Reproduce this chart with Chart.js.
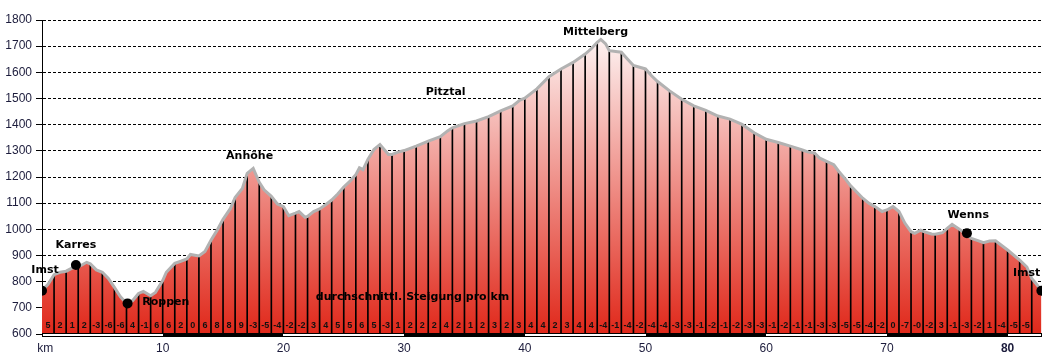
<!DOCTYPE html>
<html>
<head>
<meta charset="utf-8">
<script src="https://cdn.jsdelivr.net/npm/chart.js@4.4.0/dist/chart.umd.min.js"></script>
<style>
html,body{margin:0;padding:0;background:#fff;}
canvas{display:block;}
</style>
</head>
<body>
<canvas id="c" width="1047" height="357"></canvas>
<script>
// ---- profile (distance in km, elevation in m) ----
const profileKm = [0,0.5,1,1.5,2,2.5,3,3.7,4,4.5,5,5.5,6,6.5,7,7.5,8,8.4,9,9.4,10,10.3,11,11.5,12,12.3,13,13.5,14,14.5,15,15.6,16,16.6,17,17.5,18,18.4,19,19.5,20,20.45,21,21.3,21.8,22,22.5,23,23.5,24,24.5,25,25.5,26,26.3,26.6,27,27.5,28,28.7,29,29.5,30,31,32,33,33.6,34,35,36,37,38,39,39.6,40,41,42,43,44,45,45.5,46,46.3,46.7,47,48,48.5,49,50,50.5,51,52,53,54,55,56,57,58,59,60,61,62,63,63.5,64,64.4,65,65.6,66,66.6,67,68,68.5,69,69.6,70,70.5,71,71.5,72,72.3,72.8,73,73.7,74,74.6,75,75.4,76,76.5,77,77.6,78,78.5,79,80,81,81.6,82,82.4,82.8];
const profileElev = [765,790,827,836,840,852,856,874,868,845,836,812,778,742,717,727,755,763,746,759,804,836,870,878,887,904,898,915,958,996,1038,1079,1122,1156,1214,1233,1180,1151,1126,1097,1087,1052,1062,1068,1046,1049,1068,1078,1094,1112,1135,1162,1183,1209,1235,1228,1267,1305,1324,1286,1286,1295,1301,1318,1337,1354,1376,1388,1404,1414,1431,1453,1472,1494,1501,1537,1583,1613,1638,1670,1690,1715,1726,1709,1683,1677,1651,1626,1613,1587,1565,1529,1497,1472,1455,1433,1421,1401,1369,1344,1332,1318,1303,1295,1292,1273,1260,1247,1222,1190,1166,1119,1100,1087,1068,1074,1087,1068,1023,991,985,997,992,982,981,987,1004,1019,1000,984,965,956,949,955,956,921,882,856,812,790,766];

// ---- average gradient per km (%), cells 0..81 ----
const slopeLabels = ['5','2','1','2','-3','-6','-6','4','-1','6',
  '6','2','0','6','8','8','9','-3','-5','-4',
  '-2','-2','3','4','5','5','6','5','-3','1',
  '2','2','2','4','2','1','2','3','2','3',
  '4','4','2','3','4','4','-4','-1','-4','-2',
  '-4','-4','-3','-3','-1','-2','-1','-2','-3','-3',
  '-1','-2','-1','-1','-3','-3','-5','-5','-4','-2',
  '0','-7','-0','-2','3','-1','-3','-2','1','-4',
  '-5','-5'];

// ---- places (dots) ----
const placeKm = [0, 2.81, 7.09, 76.63, 82.8];
const placeElev = [765, 864, 717, 985, 765];

// ---- text annotations ----
const annoText = ['Imst','Karres','Roppen','Anhöhe','Pitztal','Mittelberg','Wenns','Imst','durchschnittl. Steigung pro km'];
const annoKm   = [0.25, 2.81, 10.26, 17.2, 33.44, 45.86, 76.74, 81.58, 30.7];
const annoElev = [845, 940, 722, 1280, 1525, 1754, 1055, 833, 740];

// ---- axis ticks ----
const xTickValues = [0,10,20,30,40,50,60,70,80];
const xTickLabels = ['  km','10','20','30','40','50','60','70','80'];
const yMin = 600, yMax = 1800, yStep = 100;
const xMax = 82.85;

const profilePts = profileKm.map((k,i)=>({x:k, y:profileElev[i]}));
const kmLinePts = profilePts.filter(p => Number.isInteger(p.x) && p.x > 0);
const placePts = placeKm.map((k,i)=>({x:k, y:placeElev[i]}));

const tickColor = '#1c1c3c';

const overlay = {
  id: 'overlay',
  afterDraw(chart) {
    const {ctx, chartArea, scales} = chart;
    const x = scales.x, y = scales.y;
    ctx.save();
    // gradient labels per km
    ctx.fillStyle = '#111';
    ctx.font = 'bold 9px "Liberation Sans", Arial, sans-serif';
    ctx.textAlign = 'center';
    ctx.textBaseline = 'middle';
    const yl = chartArea.bottom - 8.5;
    slopeLabels.forEach((s, i) => {
      ctx.fillText(s, x.getPixelForValue(i + 0.5), yl);
    });
    // annotations
    ctx.fillStyle = '#000';
    ctx.font = 'bold 11px "DejaVu Sans", sans-serif';
    annoText.forEach((t, i) => {
      ctx.fillText(t, x.getPixelForValue(annoKm[i]), y.getPixelForValue(annoElev[i]));
    });
    // km bar
    const endKm = profileKm[profileKm.length - 1];
    const x0 = Math.round(x.getPixelForValue(0));
    const xe = Math.round(x.getPixelForValue(endKm));
    const top = Math.round(chartArea.bottom) - 1;
    ctx.fillStyle = '#000';
    ctx.fillRect(x0, top, xe - x0 + 1, 4);
    ctx.fillStyle = '#fff';
    for (let a = 0; a < endKm; a += 20) {
      const b = Math.min(a + 10, endKm);
      const xa = Math.round(x.getPixelForValue(a)) + (a === 0 ? 1 : 0);
      const xb = Math.round(x.getPixelForValue(b));
      ctx.fillRect(xa, top + 1, xb - xa, 2);
    }
    ctx.restore();
  }
};

new Chart(document.getElementById('c'), {
  type: 'line',
  data: {
    datasets: [
      { type: 'scatter', data: placePts, pointRadius: 5, pointHoverRadius: 5,
        backgroundColor: '#000', borderWidth: 0, showLine: false, order: 0 },
      { type: 'line', data: profilePts, borderColor: '#b2b2b2', borderWidth: 3,
        fill: false, pointRadius: 0, tension: 0, order: 1 },
      { type: 'bar', data: kmLinePts, backgroundColor: '#000', barThickness: 1,
        base: yMin, order: 2 },
      { type: 'line', data: profilePts, borderWidth: 0, pointRadius: 0, tension: 0,
        fill: 'start', order: 3,
        backgroundColor: (c) => {
          const ch = c.chart; const a = ch.chartArea;
          if (!a) return '#e02a1c';
          const g = ch.ctx.createLinearGradient(0, a.top, 0, a.bottom);
          g.addColorStop(0, '#ffffff');
          g.addColorStop(1, '#e0281a');
          return g;
        } }
    ]
  },
  options: {
    responsive: false,
    devicePixelRatio: 1,
    animation: false,
    events: [],
    layout: { padding: { left: 0, right: 4, top: 20, bottom: 0 } },
    plugins: { legend: { display: false }, tooltip: { enabled: false } },
    scales: {
      x: {
        type: 'linear', min: 0, max: xMax, offset: false,
        grid: { display: false, drawTicks: false, offset: false },
        border: { display: false },
        afterBuildTicks: (s) => { s.ticks = xTickValues.map(v => ({ value: v })); },
        afterFit: (s) => { s.height = 23; },
        ticks: {
          autoSkip: false, maxRotation: 0, padding: 7, color: tickColor,
          font: (c) => ({ family: '"Liberation Sans", Arial, sans-serif', size: 12,
                          weight: (c.tick && c.tick.value === 80) ? 'bold' : 'normal' }),
          callback: (v) => { const i = xTickValues.indexOf(v); return i >= 0 ? xTickLabels[i] : ''; }
        }
      },
      y: {
        type: 'linear', min: yMin, max: yMax, z: 1,
        afterFit: (s) => { s.width = 42; },
        grid: { color: '#000', lineWidth: 1, drawTicks: true, tickLength: 6, tickBorderDash: [] },
        border: { display: true, color: '#000', width: 1, dash: [3, 2] },
        ticks: { stepSize: yStep, padding: 4, color: tickColor,
                 font: { family: '"Liberation Sans", Arial, sans-serif', size: 12 },
                 callback: (v) => String(v) }
      }
    }
  },
  plugins: [overlay]
});
</script>
</body>
</html>
